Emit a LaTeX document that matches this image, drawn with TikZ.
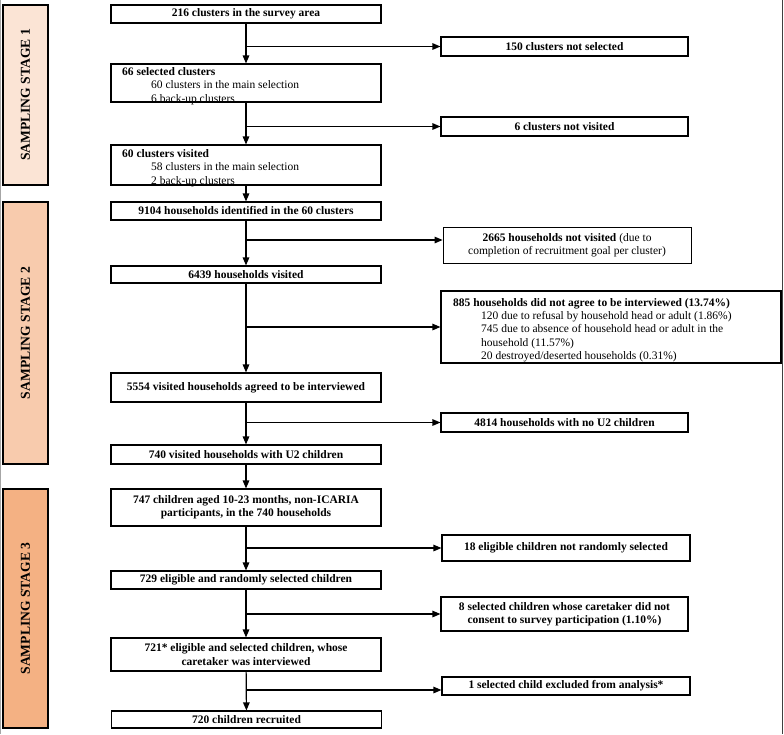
\documentclass[tikz,border=0pt]{standalone}
\usepackage{fontspec}
\setmainfont{Liberation Serif}
\usetikzlibrary{arrows.meta,calc}
\definecolor{stA}{HTML}{FBE4D5}
\definecolor{stB}{HTML}{F8CBAD}
\definecolor{stC}{HTML}{F4B183}
\begin{document}
\begin{tikzpicture}[x=1pt,y=-1pt,
  txt/.style={font=\fontsize{11.5}{13.3}\selectfont},
  box/.style={draw, line width=1.1pt, inner sep=1pt, align=center, txt},
  mainbox/.style={box, minimum width=270pt, font=\fontsize{11.5}{13.3}\selectfont\bfseries},
  sidebox/.style={box, minimum width=247pt, font=\fontsize{11.5}{13.3}\selectfont\bfseries},
  stagebox/.style={draw, line width=1.1pt, rotate=90, minimum height=45pt, inner sep=0pt,
     font=\fontsize{13.6}{16}\selectfont\bfseries},
  inner/.style={anchor=north west, inner sep=0pt, align=left, txt},
  conn/.style={line width=1.2pt, -{Triangle[length=8pt,width=6.5pt]}},
  edge/.style={line width=1.2pt}
]
\useasboundingbox (0,0) rectangle (784,734);
% page edges
\draw[gray!70, line width=1pt] (0.6,0) -- (0.6,734);
\draw[black!75, line width=1.2pt] (782.6,0) -- (782.6,734);

% stage labels
\node[stagebox, fill=stA, minimum width=180pt] (st1) at (25.5,95) {SAMPLING STAGE 1};
\node[stagebox, fill=stB, minimum width=262pt] (st2) at (25.5,333) {SAMPLING STAGE 2};
\node[stagebox, fill=stC, minimum width=239pt] (st3) at (25.5,608.5) {SAMPLING STAGE 3};

% main column
\node[mainbox, minimum height=18pt] (b1) at (246,14) {216 clusters in the survey area};
\node[mainbox, minimum height=38pt] (b2) at (246,83) {};
\node[inner] (t2) at (122,67.5) {\textbf{66 selected clusters}\\\hspace*{29pt}60 clusters in the main selection\\\hspace*{29pt}6 back-up clusters};
\node[mainbox, minimum height=40pt] (b3) at (246,165) {};
\node[inner] (t3) at (122,149.5) {\textbf{60 clusters visited}\\\hspace*{29pt}58 clusters in the main selection\\\hspace*{29pt}2 back-up clusters};
\node[mainbox, minimum height=18pt] (b4) at (246,211) {9104 households identified in the 60 clusters};
\node[mainbox, minimum height=17pt] (b5) at (246,274.5) {6439 households visited};
\node[mainbox, minimum height=29pt] (b6) at (246,387.5) {5554 visited households agreed to be interviewed};
\node[mainbox, minimum height=19pt] (b7) at (246,454.5) {740 visited households with U2 children};
\node[mainbox, minimum height=37pt] (b8) at (246,507.5) {747 children aged 10-23 months, non-ICARIA\\participants, in the 740 households};
\node[mainbox, minimum height=18pt] (b9) at (246,580) {729 eligible and randomly selected children};
\node[mainbox, minimum height=33pt] (b10) at (246,654.5) {721* eligible and selected children, whose\\caretaker was interviewed};
\node[mainbox, minimum height=17pt] (b11) at (246.5,719.5) {720 children recruited};

% side boxes
\node[sidebox, minimum height=19pt] (s1) at (564.5,46.5) {150 clusters not selected};
\node[sidebox, minimum height=19pt] (s2) at (564.5,126.5) {6 clusters not visited};
\node[box, minimum width=248pt, minimum height=36pt, line width=0.8pt] (s3) at (567,245) {\textbf{2665 households not visited} (due to\\completion of recruitment goal per cluster)};
\node[box, minimum width=340pt, minimum height=72pt] (s4) at (611,327) {};
\node[inner] (t4) at (453,298) {\textbf{885 households did not agree to be interviewed (13.74\%)}\\\hspace*{28pt}120 due to refusal by household head or adult (1.86\%)\\\hspace*{28pt}745 due to absence of household head or adult in the\\\hspace*{28pt}household (11.57\%)\\\hspace*{28pt}20 destroyed/deserted households (0.31\%)};
\node[sidebox, minimum height=19pt] (s5) at (564.5,422.5) {4814 households with no U2 children};
\node[sidebox, minimum width=248pt, minimum height=26pt] (s6) at (566,548) {18 eligible children not randomly selected};
\node[sidebox, minimum height=34pt] (s7) at (564.5,614) {8 selected children whose caretaker did not\\consent to survey participation (1.10\%)};
\node[sidebox, minimum width=248pt, minimum height=18pt] (s8) at (566,686) {1 selected child excluded from analysis*};

% vertical connectors
\draw[conn] (b1) -- (b2);
\draw[conn] (b2) -- (b3);
\draw[conn] (b3) -- (b4);
\draw[conn] (b4) -- (b5);
\draw[conn] (b5) -- (b6);
\draw[conn] (b6) -- (b7);
\draw[conn] (b7) -- (b8);
\draw[conn] (b8) -- (b9);
\draw[conn] (b9) -- (b10);
\draw[conn] (b10) -- (b11);

% branch junctions
\coordinate (j1) at (246,46.5);
\coordinate (j2) at (246,126.5);
\coordinate (j3) at (246,240);
\coordinate (j4) at (246,327);
\coordinate (j5) at (246,422.5);
\coordinate (j6) at (246,548);
\coordinate (j7) at (246,614);
\coordinate (j8) at (246,690);
\draw[conn] (j1) -- (j1 -| s1.west);
\draw[conn] (j2) -- (j2 -| s2.west);
\draw[conn] (j3) -- (j3 -| s3.west);
\draw[conn] (j4) -- (j4 -| s4.west);
\draw[conn] (j5) -- (j5 -| s5.west);
\draw[conn] (j6) -- (j6 -| s6.west);
\draw[conn] (j7) -- (j7 -| s7.west);
\draw[conn] (j8) -- (j8 -| s8.west);
\end{tikzpicture}
\end{document}
